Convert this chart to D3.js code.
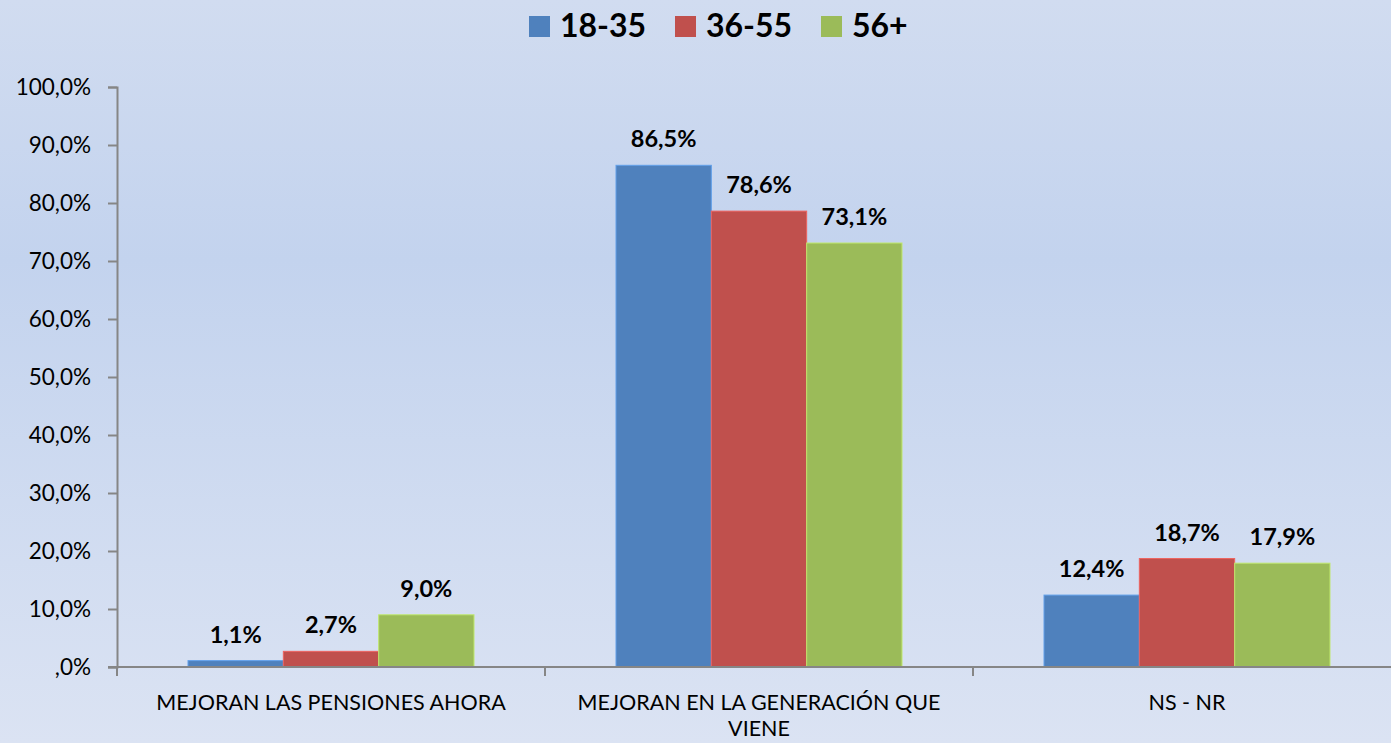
<!DOCTYPE html>
<html>
<head>
<meta charset="utf-8">
<script src="https://cdn.jsdelivr.net/npm/d3@7"></script>
<style>
  html, body { margin: 0; padding: 0; }
  body { width: 1391px; height: 743px; overflow: hidden; }
  text { font-family: Lato, "Open Sans", sans-serif; }
</style>
</head>
<body>
<svg id="chart" width="1391" height="743"></svg>
<script>
// data
const categories = ['MEJORAN LAS PENSIONES AHORA', 'MEJORAN EN LA GENERACIÓN QUE VIENE', 'NS - NR'];
const series = ['18-35', '36-55', '56+'];
const values1835 = [1.1, 86.5, 12.4];
const values3655 = [2.7, 78.6, 18.7];
const values56 = [9.0, 73.1, 17.9];
const yTicks = [0, 10, 20, 30, 40, 50, 60, 70, 80, 90, 100];
const yTickLabels = [',0%', '10,0%', '20,0%', '30,0%', '40,0%', '50,0%', '60,0%', '70,0%', '80,0%', '90,0%', '100,0%'];

const colors = ['#4f81bd', '#c0504d', '#9bbb59'];
const allValues = [values1835, values3655, values56];

const svg = d3.select('#chart');
const W = 1391, H = 743;

// background gradient
const defs = svg.append('defs');
const grad = defs.append('linearGradient').attr('id', 'bg').attr('x1', 0).attr('y1', 0).attr('x2', 0).attr('y2', 1);
grad.append('stop').attr('offset', '0%').attr('stop-color', '#d1dcf0');
grad.append('stop').attr('offset', '35%').attr('stop-color', '#c3d3ee');
grad.append('stop').attr('offset', '100%').attr('stop-color', '#dbe3f3');
svg.append('rect').attr('width', W).attr('height', H).attr('fill', 'url(#bg)');

const plotLeft = 117, plotBottom = 667, plotTop = 87;
const groupW = 428;

const y = d3.scaleLinear().domain([0, 100]).range([plotBottom, plotTop]);
const x0 = d3.scaleBand().domain(categories).range([plotLeft, plotLeft + groupW * categories.length]).padding(0);
const x1 = d3.scaleBand().domain(series).range([71, groupW - 71]).padding(0);

// y axis
const yAxis = svg.append('g')
  .attr('transform', 'translate(' + plotLeft + ',0)')
  .call(d3.axisLeft(y).tickValues(yTicks).tickSize(9).tickPadding(17)
    .tickFormat((d, i) => yTickLabels[i]));
yAxis.select('.domain').attr('stroke', '#868686').attr('stroke-width', 2);
yAxis.selectAll('.tick line').attr('stroke', '#868686').attr('stroke-width', 2);
yAxis.selectAll('.tick text').attr('font-size', 22.5).attr('fill', '#000')
  .style('font-family', 'Lato, "Open Sans", sans-serif');

// bars
const groups = svg.append('g').selectAll('g')
  .data(categories)
  .enter().append('g')
  .attr('transform', d => 'translate(' + x0(d) + ',0)');

groups.selectAll('rect')
  .data((d, ci) => series.map((s, si) => ({s: s, si: si, v: allValues[si][ci]})))
  .enter().append('rect')
  .attr('x', d => x1(d.s))
  .attr('width', x1.bandwidth())
  .attr('y', d => y(d.v))
  .attr('height', d => plotBottom - y(d.v))
  .attr('fill', d => colors[d.si])
  .attr('stroke', d => d3.color(colors[d.si]).brighter(0.6))
  .attr('stroke-width', 1);

groups.selectAll('text.val')
  .data((d, ci) => series.map((s, si) => ({s: s, si: si, v: allValues[si][ci]})))
  .enter().append('text')
  .attr('class', 'val')
  .attr('x', d => x1(d.s) + x1.bandwidth() / 2)
  .attr('y', d => y(d.v) - 18)
  .attr('text-anchor', 'middle')
  .attr('font-size', 23.5)
  .attr('font-weight', 'bold')
  .text(d => d.v.toFixed(1).replace('.', ',') + '%');

// x axis
const xAxis = svg.append('g');
xAxis.append('line')
  .attr('x1', plotLeft - 9).attr('x2', W)
  .attr('y1', plotBottom).attr('y2', plotBottom)
  .attr('stroke', '#868686').attr('stroke-width', 2);
xAxis.selectAll('line.tick')
  .data(categories)
  .enter().append('line')
  .attr('class', 'tick')
  .attr('x1', d => x0(d)).attr('x2', d => x0(d))
  .attr('y1', plotBottom).attr('y2', plotBottom + 9)
  .attr('stroke', '#868686').attr('stroke-width', 2);

// category labels, wrapped
function wrapLines(txt) {
  if (txt.length <= 28) return [txt];
  const words = txt.split(' ');
  const last = words.pop();
  return [words.join(' '), last];
}
xAxis.selectAll('text.cat')
  .data(categories)
  .enter().append('text')
  .attr('class', 'cat')
  .attr('text-anchor', 'middle')
  .attr('font-size', 21.5)
  .each(function (d) {
    const t = d3.select(this);
    wrapLines(d).forEach((line, i) => {
      t.append('tspan')
        .attr('x', x0(d) + groupW / 2)
        .attr('y', 710 + i * 26)
        .text(line);
    });
  });

// legend
const legendX = [529, 675, 821];
const legend = svg.append('g').selectAll('g')
  .data(series)
  .enter().append('g')
  .attr('transform', (d, i) => 'translate(' + legendX[i] + ',16)');
legend.append('rect')
  .attr('width', 21).attr('height', 21)
  .attr('fill', (d, i) => colors[i]);
legend.append('text')
  .attr('x', 31).attr('y', 21)
  .attr('font-size', 32)
  .attr('font-weight', 'bold')
  .text(d => d);
</script>
</body>
</html>
